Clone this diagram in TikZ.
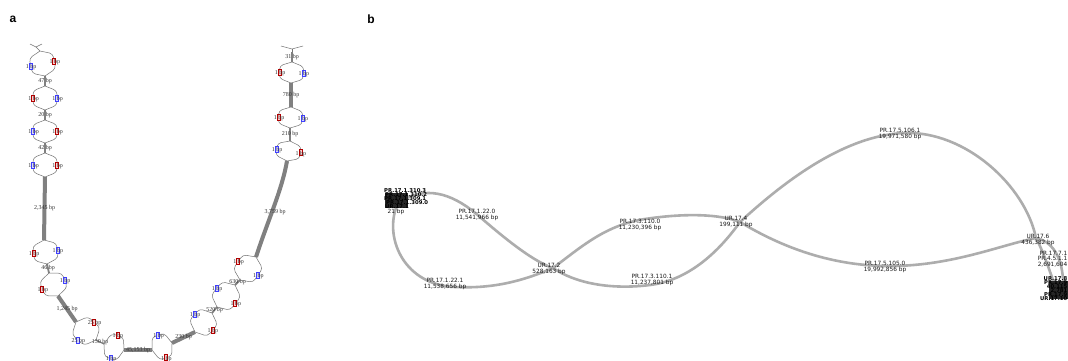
\documentclass[tikz,border=0pt]{standalone}
\usepackage{fontspec}
\setmainfont{Liberation Serif}
\newfontfamily\panelfont{Liberation Sans}
\newfontfamily\dvfont{DejaVu Sans}
\usetikzlibrary{calc}
\tikzset{
  thinlink/.style={draw=black!55, line width=0.5pt},
  seglink/.style={draw=black!50, line width=#1},
  seglink/.default=2pt,
  bplab/.style={font=\fontsize{6}{6}\selectfont, text=black!80, inner sep=0pt},
  redmark/.style={draw=red!70!black, fill=red!20, line width=0.7pt, minimum width=3pt, minimum height=6pt, inner sep=0pt},
  bluemark/.style={draw=blue!75, fill=blue!15, line width=0.7pt, minimum width=3pt, minimum height=6pt, inner sep=0pt},
  bcurve/.style={draw=black!32, line width=2.6pt},
  blab/.style={font=\dvfont\fontsize{5.8}{6}\selectfont, align=center, inner sep=0pt, text=black!90},
  blobtxt/.style={font=\dvfont\bfseries\fontsize{5.3}{5.3}\selectfont, inner sep=0pt},
  panellabel/.style={font=\panelfont\bfseries\fontsize{12}{12}\selectfont, inner sep=0pt}
}
% #1 top, #2 bottom, #3 style side 90, #4 label side 90, #5 style side -90, #6 label side -90
\newcommand\bubble[6]{%
  \draw[thinlink, rounded corners=3.5pt] (#1) -- ($(#1)!0.2!(#2)!12pt!90:(#2)$) -- ($(#1)!0.8!(#2)!12pt!90:(#2)$) -- (#2);
  \draw[thinlink, rounded corners=3.5pt] (#1) -- ($(#1)!0.2!(#2)!12pt!-90:(#2)$) -- ($(#1)!0.8!(#2)!12pt!-90:(#2)$) -- (#2);
  \node[#3] (#1r) at ($(#1)!0.5!(#2)!12pt!90:(#2)$) {};
  \node[#5] (#1l) at ($(#1)!0.5!(#2)!12pt!-90:(#2)$) {};
  \node[bplab] (#1rt) at ($(#1r)+(0.5,0.8)$) {#4};
  \node[bplab] (#1lt) at ($(#1l)+(0.5,0.8)$) {#6};
}
\begin{document}
\begin{tikzpicture}[x=1pt,y=-1pt]
\useasboundingbox (0,0) rectangle (1068,360);
\fill[white] (0,0) rectangle (1068,360);

\node[panellabel] (pa) at (13,19) {a};
\node[panellabel] (pb) at (371,19) {b};

% ---------------- panel a ----------------
\coordinate (a0) at (40,51);
\coordinate (a1) at (45,76);
\coordinate (a2) at (45,86);
\coordinate (a3) at (45,110);
\coordinate (a4) at (45,120);
\coordinate (a5) at (45,143);
\coordinate (a6) at (45,153);
\coordinate (a7) at (45,177);
\coordinate (a8) at (44,240);
\coordinate (a9) at (47,264);
\coordinate (a10) at (49,273);
\coordinate (a11) at (58,296);
\coordinate (a12) at (76,322);
\coordinate (a13) at (96,340);
\coordinate (a14) at (104,344);
\coordinate (a15) at (124,350);
\coordinate (a16) at (152,350);
\coordinate (a17) at (172,343);
\coordinate (a18) at (195,332);
\coordinate (a19) at (212,313);
\coordinate (a20) at (217,307);
\coordinate (a21) at (235,285);
\coordinate (a22) at (240,280);
\coordinate (a23) at (256,257);
\coordinate (a24) at (287,161);
\coordinate (a25) at (290,141);
\coordinate (a26) at (290,128);
\coordinate (a27) at (291,107);
\coordinate (a28) at (291,83);
\coordinate (a29) at (292,62);
\coordinate (a30) at (292,52);
\coordinate (f0) at (36,47);
\coordinate (f1) at (30,44);
\coordinate (f2) at (42,44);
\coordinate (g0) at (292,49);
\coordinate (g1) at (281,46);
\coordinate (g2) at (303,46);

% top forks
\draw[thinlink] (f1) -- (f0) -- (f2);
\draw[thinlink] (f0) -- (a0);
\draw[thinlink] (g1) -- (g0) -- (g2);
\draw[thinlink] (g0) -- (a30);

% thick segments
\draw[seglink=2.6pt] (a1) -- (a2) node[bplab, midway] (s1) {47 bp};
\draw[seglink=1.8pt] (a3) -- (a4) node[bplab, midway] (s2) {20 bp};
\draw[seglink=1.8pt] (a5) -- (a6) node[bplab, midway] (s3) {42 bp};
\draw[seglink=4pt] (a7) -- (a8) node[bplab, pos=0.5] (s4) {2,345 bp};
\draw[seglink=1.8pt] (a9) -- (a10) node[bplab, midway] (s5) {46 bp};
\draw[seglink=4pt] (a11) -- (a12) node[bplab, midway] (s6) {1,245 bp};
\draw[seglink=1.2pt] (a13) -- (a14) node[bplab, midway] (s7) {150 bp};
\draw[seglink=4pt] (a15) -- (a16) node[bplab, midway] (s8) {45,153 bp};
\draw[seglink=4pt] (a17) -- (a18) node[bplab, midway] (s9) {230 bp};
\draw[seglink=1.8pt] (a19) -- (a20) node[bplab, midway] (s10) {520 bp};
\draw[seglink=1.8pt] (a21) -- (a22) node[bplab, midway] (s11) {630 bp};
\draw[seglink=4pt] (a23) .. controls (268,220) and (282,190) .. (a24);
\node[bplab] (s12) at (275,212) {3,759 bp};
\draw[seglink=1.8pt] (a25) -- (a26) node[bplab, midway] (s13) {210 bp};
\draw[seglink=4pt] (a27) -- (a28) node[bplab, midway] (s14) {780 bp};
\draw[seglink=1.8pt] (a29) -- (a30) node[bplab, midway] (s15) {31 bp};

% bubbles
\bubble{a0}{a1}{redmark}{1 bp}{bluemark}{1 bp}
\bubble{a2}{a3}{bluemark}{1 bp}{redmark}{1 bp}
\bubble{a4}{a5}{redmark}{1 bp}{bluemark}{1 bp}
\bubble{a6}{a7}{redmark}{1 bp}{bluemark}{1 bp}
\bubble{a8}{a9}{bluemark}{1 bp}{redmark}{1 bp}
\bubble{a10}{a11}{bluemark}{1 bp}{redmark}{1 bp}
\bubble{a12}{a13}{redmark}{25 bp}{bluemark}{25 bp}
\bubble{a14}{a15}{redmark}{1 bp}{bluemark}{1 bp}
\bubble{a16}{a17}{bluemark}{1 bp}{redmark}{1 bp}
\bubble{a18}{a19}{bluemark}{1 bp}{redmark}{1 bp}
\bubble{a20}{a21}{bluemark}{1 bp}{redmark}{1 bp}
\bubble{a22}{a23}{redmark}{1 bp}{bluemark}{1 bp}
\bubble{a24}{a25}{bluemark}{1 bp}{redmark}{1 bp}
\bubble{a26}{a27}{redmark}{1 bp}{bluemark}{1 bp}
\bubble{a28}{a29}{redmark}{1 bp}{bluemark}{1 bp}

% ---------------- panel b ----------------
\coordinate (L) at (405,199);
\coordinate (L2) at (396,208);
\coordinate (U2) at (553,268);
\coordinate (U4) at (740,222);
\coordinate (U6) at (1036,238);
\coordinate (R) at (1056,288);
\coordinate (R2) at (1063,288);

\draw[bcurve] (L) .. controls (430,186) and (455,195) .. (480,217) .. controls (510,243) and (535,262) .. (U2);
\draw[bcurve] (L2) .. controls (385,240) and (405,285) .. (455,287) .. controls (495,289) and (525,280) .. (U2);
\draw[bcurve] (U2) .. controls (580,248) and (605,225) .. (645,219) .. controls (685,213) and (720,214) .. (U4);
\draw[bcurve] (U2) .. controls (575,283) and (610,290) .. (650,285) .. controls (690,280) and (720,250) .. (U4);
\draw[bcurve] (U4) .. controls (775,190) and (840,135) .. (905,133) .. controls (965,131) and (1025,185) .. (U6);
\draw[bcurve] (U4) .. controls (770,240) and (820,265) .. (885,266) .. controls (950,267) and (1000,245) .. (U6);
\draw[bcurve] (U6) .. controls (1045,255) and (1050,273) .. (R);
\draw[bcurve] (U6) .. controls (1055,242) and (1064,262) .. (R2);

% left cluster
\fill[black!85] (385,193) rectangle (408,208);
\node[blobtxt, anchor=west] (lc1) at (384,191) {PR.17.1.310.3};
\node[blobtxt, anchor=west] (lc2) at (385,195) {PR.17.1.310.2};
\node[blobtxt, anchor=west] (lc3) at (384,199) {PR.17.1.309.1};
\node[blobtxt, anchor=west] (lc4) at (386,203) {PR.17.1.309.0};
\node[blobtxt, anchor=west] (lc5) at (385,207) {UR.17.1};
\node[blab] (lc6) at (396,212) {21 bp};

% edge / node labels
\node[blab] (e1) at (477,215) {PR.17.1.22.0\\11,541,966 bp};
\node[blab] (e2) at (445,284) {PR.17.1.22.1\\11,538,656 bp};
\node[blab] (n2) at (549,269) {UR.17.2\\528,163 bp};
\node[blab] (e3) at (640,225) {PR.17.3.110.0\\11,230,396 bp};
\node[blab] (e4) at (652,280) {PR.17.3.110.1\\11,237,801 bp};
\node[blab] (n4) at (736,222) {UR.17.4\\199,111 bp};
\node[blab] (e5) at (900,134) {PR.17.5.106.1\\19,971,580 bp};
\node[blab] (e6) at (885,267) {PR.17.5.105.0\\19,992,856 bp};
\node[blab] (n6) at (1038,240) {UR.17.6\\436,382 bp};
\node[blab, anchor=east] (e7) at (1067.5,253) {PR.17.7.1};
\node[blab, anchor=east] (e8) at (1067.5,258.5) {PR.4.5.1.1};
\node[blab, anchor=east] (e9) at (1067.5,264.5) {2,691,604};

% right cluster
\fill[black!85] (1049,281) rectangle (1068,299);
\node[blobtxt, anchor=east] (rc1) at (1067.5,279) {UR.17.8};
\node[blobtxt, anchor=east] (rc2) at (1067.5,283) {PR.17.9};
\node[blobtxt, anchor=east] (rc3) at (1067.5,287) {40,115};
\node[blobtxt, anchor=east] (rc4) at (1067.5,291) {2,781};
\node[blobtxt, anchor=east] (rc5) at (1067.5,295) {PR.17.9};
\node[blobtxt, anchor=east] (rc6) at (1067.5,299) {UR.17.10};
\end{tikzpicture}
\end{document}
